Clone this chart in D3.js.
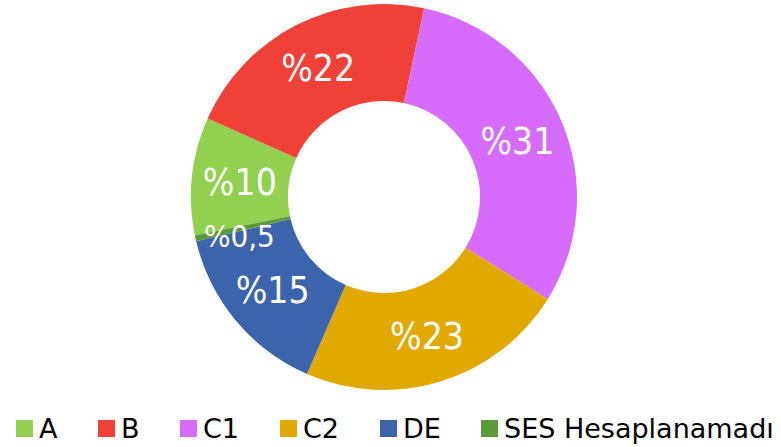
<!DOCTYPE html>
<html lang="tr">
<head>
<meta charset="utf-8">
<title>SES donut</title>
<script src="https://d3js.org/d3.v7.min.js"></script>
<style>
  body { margin: 0; background: #fff; }
  svg text { font-family: "DejaVu Sans Condensed", "DejaVu Sans", sans-serif; }
  svg .leg text { font-family: "DejaVu Sans", sans-serif; }
</style>
</head>
<body>
<script>
const categories = ["A", "B", "C1", "C2", "DE", "SES Hesaplanamadı"];
const shares = [10, 22, 31, 23, 15, 0.5];
const labels = ["%10", "%22", "%31", "%23", "%15", "%0,5"];
const colors = ["#92d050", "#ef4137", "#d76cfc", "#e1a900", "#3c64ad", "#5a9a3c"];

const w = 781, h = 447;
const cx = 384, cy = 197;
const outerR = 193, innerR = 96;

const svg = d3.select("body").append("svg")
  .attr("width", w)
  .attr("height", h);

const data = categories.map((c, i) => ({ cat: c, value: shares[i], label: labels[i], color: colors[i] }));

const start = -101.5 * Math.PI / 180;
const pie = d3.pie()
  .value(d => d.value)
  .sort(null)
  .startAngle(start)
  .endAngle(start + 2 * Math.PI);

const arc = d3.arc().innerRadius(innerR).outerRadius(outerR);
const labelArc = d3.arc().innerRadius(145).outerRadius(145);

const g = svg.append("g").attr("transform", "translate(" + cx + "," + cy + ")");

const arcs = pie(data);

g.selectAll("path")
  .data(arcs)
  .enter()
  .append("path")
  .attr("d", arc)
  .attr("fill", d => d.data.color);

g.selectAll("text.lbl")
  .data(arcs)
  .enter()
  .append("text")
  .attr("class", "lbl")
  .attr("transform", d => {
    const p = labelArc.centroid(d);
    // small slice label sits a little lower, over the DE edge
    if (d.data.cat === "SES Hesaplanamadı") return "translate(" + (p[0] - 3) + "," + (p[1] + 8) + ")";
    return "translate(" + p[0] + "," + p[1] + ")";
  })
  .attr("text-anchor", "middle")
  .attr("dy", "0.36em")
  .attr("fill", "#fff")
  .style("font-size", d => d.data.cat === "SES Hesaplanamadı" ? "31px" : "37px")
  .text(d => d.data.label);

// legend
const legendX = [16, 98, 180, 280, 380, 481];
const legend = svg.append("g").attr("class", "leg");
const item = legend.selectAll("g")
  .data(data)
  .enter()
  .append("g")
  .attr("transform", (d, i) => "translate(" + legendX[i] + ",420)");

item.append("rect")
  .attr("width", 17)
  .attr("height", 17)
  .attr("fill", d => d.color);

item.append("text")
  .attr("x", 23)
  .attr("y", 18)
  .attr("fill", "#000")
  .style("font-size", "27px")
  .text(d => d.cat);
</script>
</body>
</html>
